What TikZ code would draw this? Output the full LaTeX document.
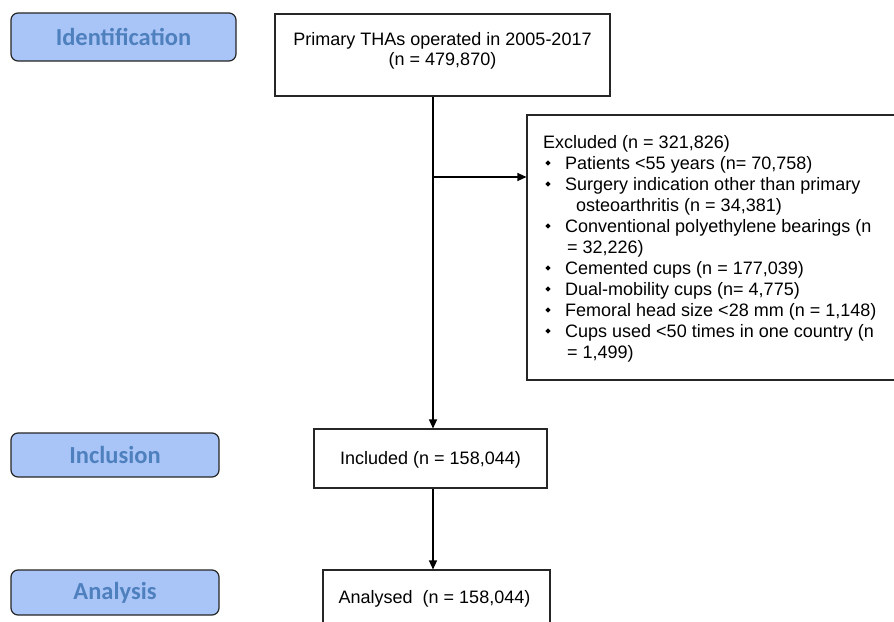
\documentclass[tikz,border=0pt]{standalone}
\usepackage{fontspec}
\setmainfont{Liberation Sans}
\newfontfamily\labfont{Carlito}
\usetikzlibrary{arrows.meta,shapes.geometric}
\definecolor{stagefill}{HTML}{A9C5F7}
\definecolor{stagetext}{HTML}{4F80BE}
\begin{document}
\begin{tikzpicture}[x=1pt,y=-1pt,
  stage/.style={draw=black!85, line width=1.2pt, rounded corners=7pt, fill=stagefill,
    font=\labfont\bfseries\fontsize{24.5}{27}\selectfont, text=stagetext, inner sep=0pt},
  box/.style={draw=black!85, line width=1.1pt, inner sep=0pt, fill=white},
  txt/.style={font=\fontsize{18}{21}\selectfont, inner sep=0pt, anchor=base},
  ltxt/.style={font=\fontsize{18}{21}\selectfont, inner sep=0pt, anchor=base west},
  arr/.style={line width=1.1pt, -{Triangle[length=9pt,width=8pt]}},
  bul/.style={diamond, fill=black, inner sep=0pt, minimum size=5.5pt}
]
\clip (0,0) rectangle (894,621);
\fill[white] (0,0) rectangle (894,621);
% stage labels
\node[stage, minimum width=225pt, minimum height=48pt] (ident) at (123.5,37) {Identification};
\node[stage, minimum width=208pt, minimum height=44pt] (inclu) at (115,455) {Inclusion};
\node[stage, minimum width=208pt, minimum height=45pt] (analy) at (115,592.5) {Analysis};
% top box
\node[box, minimum width=335pt, minimum height=82pt] (thas) at (442.5,55) {};
\node[txt] (thas1) at (442.5,45) {Primary THAs operated in 2005-2017};
\node[txt] (thas2) at (442.5,65) {(n = 479,870)};
% excluded box
\node[box, minimum width=378pt, minimum height=265pt] (excl) at (716,247.5) {};
\node[ltxt] (ex0) at (543,148) {Excluded (n = 321,826)};
\foreach \yy/\nm in {169/b1,190/b2,232/b3,274/b4,295/b5,316/b6,337/b7}
  \node[bul] (\nm) at (548,\yy-6) {};
\node[ltxt] (ex1) at (565,169) {Patients <55 years (n= 70,758)};
\node[ltxt] (ex2) at (565,190) {Surgery indication other than primary};
\node[ltxt] (ex2b) at (576,211) {osteoarthritis (n = 34,381)};
\node[ltxt] (ex3) at (565,232) {Conventional polyethylene bearings (n};
\node[ltxt] (ex3b) at (567,253) {= 32,226)};
\node[ltxt] (ex4) at (565,274) {Cemented cups (n = 177,039)};
\node[ltxt] (ex5) at (565,295) {Dual-mobility cups (n= 4,775)};
\node[ltxt] (ex6) at (565,316) {Femoral head size <28 mm (n = 1,148)};
\node[ltxt] (ex7) at (565,337) {Cups used <50 times in one country (n};
\node[ltxt] (ex7b) at (567,358) {= 1,499)};
% included
\node[box, minimum width=233pt, minimum height=59pt] (incl) at (430.5,458.5) {};
\node[txt] (inclt) at (430.5,464) {Included (n = 158,044)};
% analysed
\node[box, minimum width=227pt, minimum height=70pt] (anal) at (436.5,605) {};
\node[txt] (analt) at (434.5,603) {Analysed\ \ (n = 158,044)};
% connectors
\coordinate (trunk) at (433,0);
\coordinate (br) at (433,177);
\draw[arr] (thas.south -| trunk) -- (incl.north -| trunk);
\draw[arr] (br) -- (br -| excl.west);
\draw[arr] (incl.south -| trunk) -- (anal.north -| trunk);
\end{tikzpicture}
\end{document}
